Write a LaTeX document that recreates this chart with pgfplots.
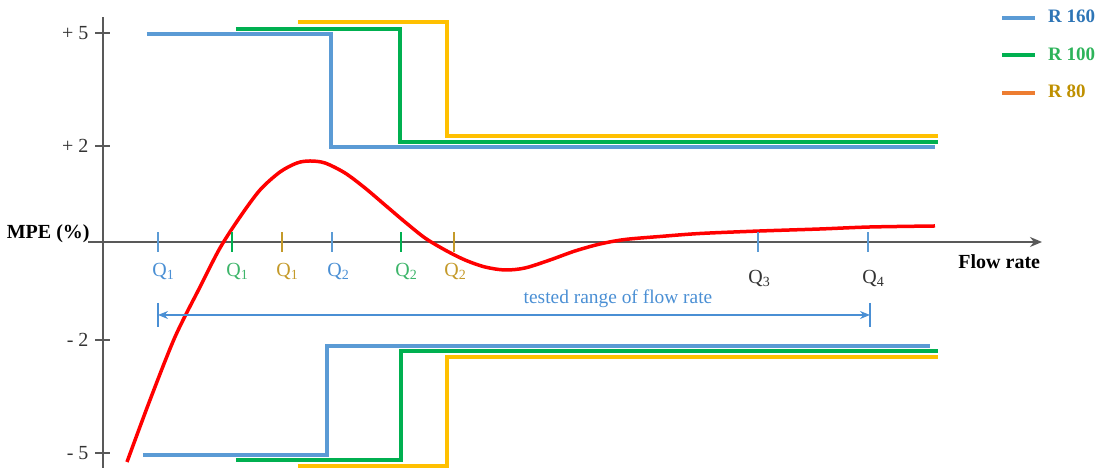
\documentclass[border=0pt]{standalone}
\usepackage{pgfplots}
\pgfplotsset{compat=1.18}
\usepackage{fontspec}
\setmainfont{Liberation Serif}
\usetikzlibrary{arrows.meta}
\definecolor{cblue}{HTML}{5B9BD5}
\definecolor{cgreen}{HTML}{00B050}
\definecolor{cyellow}{HTML}{FFC000}
\definecolor{corange}{HTML}{ED7D31}
\definecolor{tblue}{HTML}{2E75B6}
\definecolor{tgreen}{HTML}{2DB35A}
\definecolor{tgold}{HTML}{BF9000}
\definecolor{qblue}{HTML}{4A8FD4}
\definecolor{qgreen}{HTML}{3DB56A}
\definecolor{qgold}{HTML}{C49A2A}
\definecolor{axgray}{HTML}{595959}
\begin{document}
\begin{tikzpicture}
\begin{axis}[
  scale only axis, width=469.5pt, height=225.5pt,
  xmin=103, xmax=1042, ymin=-226, ymax=225,
  axis x line=middle, axis y line=left,
  x axis line style={axgray, line width=0.75pt, -{Stealth[length=6pt,width=5pt]}},
  y axis line style={axgray, line width=1pt, -},
  xtick=\empty,
  ytick={209,96,-98,-211},
  yticklabels={+ 5,+ 2,- 2,- 5},
  tick align=center, major tick length=7.5pt,
  tick style={axgray, line width=0.6pt},
  yticklabel style={font=\fontsize{10}{12}\selectfont, text=black!80},
  clip=false,
  legend style={at={(0.955,1.0255)}, anchor=north west, draw=none, fill=none,
    font=\fontsize{9.5}{11}\selectfont\bfseries, row sep=7pt, inner sep=0pt},
  legend cell align=left,
  legend image code/.code={\draw[#1, line width=2pt] (0pt,0pt) -- (16.5pt,0pt);
    \path[draw=none, fill=none] (0pt,0pt) -- (21pt,0pt);},
]
\addlegendimage{cblue}
\addlegendentry{\textcolor{tblue}{R 160}}
\addlegendimage{cgreen}
\addlegendentry{\textcolor{tgreen}{R 100}}
\addlegendimage{corange}
\addlegendentry{\textcolor{tgold}{R 80}}

% upper limits
\addplot[forget plot, cyellow, line width=2pt] coordinates {(298,220) (447,220) (447,106) (938,106)};
\addplot[forget plot, cgreen, line width=2pt] coordinates {(236,213) (400,213) (400,100) (938,100)};
\addplot[forget plot, cblue, line width=2pt] coordinates {(147,208) (331,208) (331,95) (935,95)};
% lower limits
\addplot[forget plot, cyellow, line width=2pt] coordinates {(298,-224) (447,-224) (447,-115) (938,-115)};
\addplot[forget plot, cgreen, line width=2pt] coordinates {(236,-218) (401,-218) (401,-109) (938,-109)};
\addplot[forget plot, cblue, line width=2pt] coordinates {(143,-213) (327,-213) (327,-104) (930,-104)};

% error curve
\addplot[forget plot, red, line width=1.75pt, smooth] coordinates {
(127,-220) (150,-158) (175,-95) (200,-45) (220,-6) (240,25) (260,52) (280,70)
(297,79) (310,81) (325,79) (345,69) (365,54) (385,37) (405,20) (425,4)
(445,-8) (465,-18) (485,-25) (505,-28) (525,-26) (550,-18) (575,-9) (600,-2)
(625,2.5) (660,5.5) (700,8.5) (760,11) (820,13) (870,15) (935,16)};

% flow-rate ticks
\addplot[forget plot, cblue, line width=0.6pt] coordinates {(158,-10) (158,10)};
\addplot[forget plot, cgreen, line width=0.6pt] coordinates {(232,-10) (232,10)};
\addplot[forget plot, qgold, line width=0.6pt] coordinates {(282,-10) (282,10)};
\addplot[forget plot, cblue, line width=0.6pt] coordinates {(332,-10) (332,10)};
\addplot[forget plot, cgreen, line width=0.6pt] coordinates {(401,-10) (401,10)};
\addplot[forget plot, qgold, line width=0.6pt] coordinates {(454,-10) (454,10)};
\addplot[forget plot, cblue, line width=0.6pt] coordinates {(758,-10) (758,10)};
\addplot[forget plot, cblue, line width=0.6pt] coordinates {(868,-10) (868,10)};

\draw[axgray, line width=0.75pt] (axis cs:88,0) -- (axis cs:103,0);

\begin{scope}[font=\fontsize{10}{12}\selectfont, every node/.append style={inner sep=0pt}]
\node[anchor=base west, text=qblue]  at (axis cs:152,-35) {Q\textsubscript{1}};
\node[anchor=base west, text=qgreen] at (axis cs:226,-35) {Q\textsubscript{1}};
\node[anchor=base west, text=qgold]  at (axis cs:276,-35) {Q\textsubscript{1}};
\node[anchor=base west, text=qblue]  at (axis cs:327,-35) {Q\textsubscript{2}};
\node[anchor=base west, text=qgreen] at (axis cs:395,-35) {Q\textsubscript{2}};
\node[anchor=base west, text=qgold]  at (axis cs:444,-35) {Q\textsubscript{2}};
\node[anchor=base west, text=black!80] at (axis cs:748,-42) {Q\textsubscript{3}};
\node[anchor=base west, text=black!80] at (axis cs:862,-42) {Q\textsubscript{4}};
\node[text=qblue, font=\fontsize{9.7}{12}\selectfont] at (axis cs:618,-57) {tested range of flow rate};
\node[anchor=east, font=\fontsize{10}{12}\selectfont\bfseries] at (axis cs:90,8) {MPE (\%)};
\node[anchor=west, font=\fontsize{10}{12}\selectfont\bfseries] at (axis cs:958,-20) {Flow rate};
\end{scope}

\draw[qblue, line width=0.6pt, {Stealth[length=5pt,width=4pt]}-{Stealth[length=5pt,width=4pt]}] (axis cs:158,-73) -- (axis cs:870,-73);
\draw[qblue, line width=1pt] (axis cs:158,-61) -- (axis cs:158,-85);
\draw[qblue, line width=1pt] (axis cs:870,-61) -- (axis cs:870,-85);

\path (axis cs:0,-226) rectangle (axis cs:1100,242);
\end{axis}
\end{tikzpicture}
\end{document}
